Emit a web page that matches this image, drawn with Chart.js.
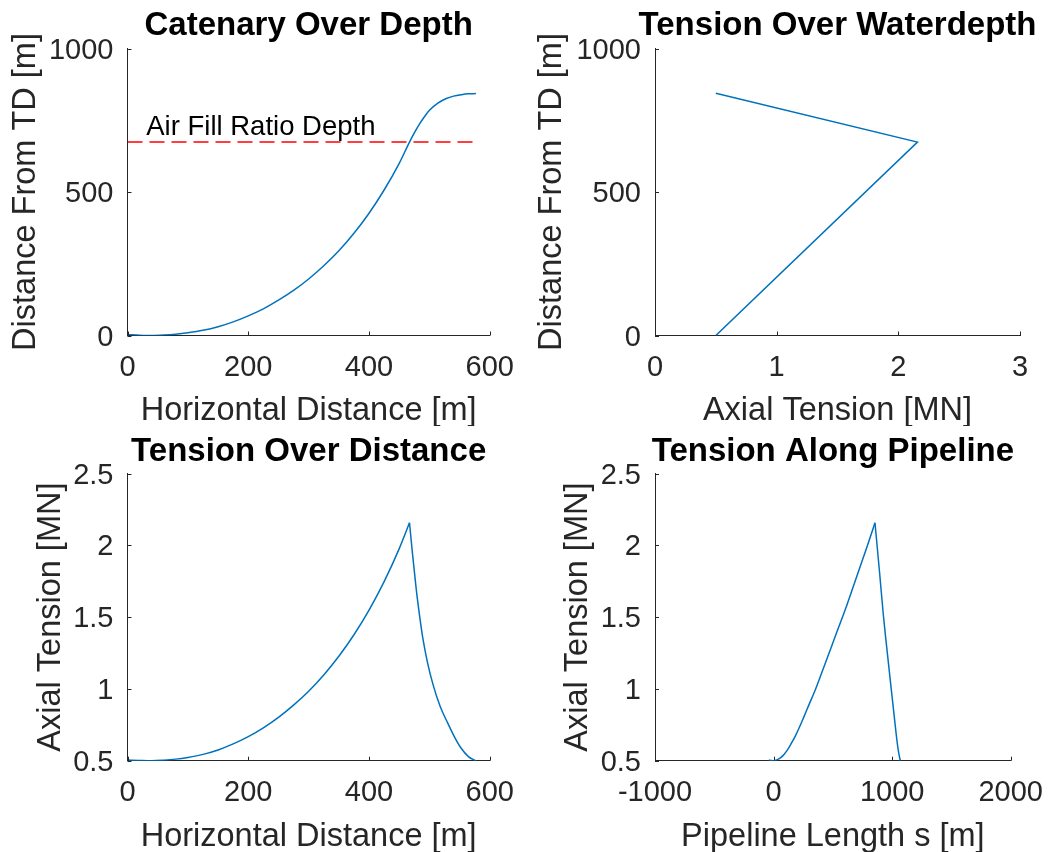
<!DOCTYPE html>
<html><head><meta charset="utf-8">
<script src="https://cdn.jsdelivr.net/npm/chart.js@4.4.1/dist/chart.umd.min.js"></script>
<style>
html,body{margin:0;padding:0;background:#fff;}
#wrap{position:relative;width:1058px;height:852px;background:#fff;overflow:hidden;}
canvas{position:absolute;}
</style></head><body>
<div id="wrap">
<canvas id="c1" width="529" height="426" style="left:0px;top:0px"></canvas>
<canvas id="c2" width="529" height="426" style="left:529px;top:0px"></canvas>
<canvas id="c3" width="529" height="426" style="left:0px;top:426px"></canvas>
<canvas id="c4" width="529" height="426" style="left:529px;top:426px"></canvas>
</div>
<script>
// ---------- data ----------
// Panel 1: catenary shape (horizontal distance [m] vs distance from TD [m])
const catX = [0, 20, 40, 60, 80, 100, 125, 150, 175, 200, 225, 250, 275, 300, 325, 350, 375, 400, 425, 450, 467, 475, 484, 492, 500, 514, 528, 540, 553, 565, 577];
const catY = [3, 1, 0, 1.5, 4.5, 9.5, 18, 30.5, 47.5, 68.5, 93, 123, 157, 197, 243, 295, 356, 426, 507, 600, 674, 706, 738, 763, 785, 810, 826, 834, 839, 842, 843];
const airFillDepth = 674;
const airFillX = [0, 577];
const airFillLabel = 'Air Fill Ratio Depth';

// Panel 2: tension over water depth
const wdTension = [0.5, 2.157, 0.5];
const wdDepth = [0, 674, 844];

// Panel 3: tension over horizontal distance (rising and falling branches)
const tdRiseX = [0, 20, 40, 60, 80, 100, 125, 150, 175, 200, 225, 250, 275, 300, 325, 350, 375, 400, 425, 450, 467];
const tdRiseT = [0.505, 0.502, 0.5, 0.504, 0.511, 0.523, 0.544, 0.575, 0.617, 0.668, 0.729, 0.802, 0.887, 0.984, 1.097, 1.227, 1.377, 1.549, 1.747, 1.977, 2.157];
const tdFallX = [467, 472, 478, 484, 489, 497, 506, 518, 530, 541, 552, 565, 577];
const tdFallT = [2.157, 1.94, 1.70, 1.50, 1.355, 1.18, 1.03, 0.875, 0.765, 0.67, 0.59, 0.527, 0.5];

// Panel 4: tension along pipeline length s
const tsRiseS = [-40, -20, 0, 21, 41, 62, 88, 117, 147, 181, 216, 254, 297, 347, 399, 458, 525, 603, 686, 783, 855];
const tsRiseT = [0.505, 0.502, 0.5, 0.504, 0.511, 0.523, 0.544, 0.575, 0.617, 0.668, 0.729, 0.802, 0.887, 0.984, 1.097, 1.227, 1.377, 1.549, 1.747, 1.977, 2.157];
const tsFallS = [855, 895, 925, 950, 975, 1000, 1020, 1036, 1050, 1062, 1070];
const tsFallT = [2.157, 1.80, 1.52, 1.32, 1.13, 0.94, 0.79, 0.67, 0.58, 0.525, 0.5];

// Tick values
const ticksHorizDist = [0, 200, 400, 600];
const ticksDepth = [0, 500, 1000];
const ticksTensionX = [0, 1, 2, 3];
const ticksTensionY = [0.5, 1, 1.5, 2, 2.5];
const ticksPipeLen = [-1000, 0, 1000, 2000];

// ---------- styling ----------
const FONT = "'Liberation Sans', Arial, Helvetica, sans-serif";
const TXT = '#262626';
const BLUE = '#0072BD';
const TICK_SIZE = 29, LABEL_SIZE = 32.5, TITLE_SIZE = 33;
const CW = 529, CH = 426;

function pts(xs, ys) { return xs.map((x, i) => ({x: x, y: ys[i]})); }

function lineDs(data, extra) {
  return Object.assign({
    data: data, showLine: true, borderColor: BLUE, borderWidth: 1.5,
    pointRadius: 0, pointHoverRadius: 0, fill: false, tension: 0
  }, extra || {});
}

const inwardTicks = {
  id: 'inwardTicks',
  afterDraw(chart) {
    const ctx = chart.ctx, a = chart.chartArea;
    const xs = chart.scales.x, ys = chart.scales.y;
    ctx.save();
    ctx.strokeStyle = TXT; ctx.lineWidth = 1;
    ctx.beginPath();
    xs.ticks.forEach(t => {
      const p = Math.round(xs.getPixelForValue(t.value)) + 0.5;
      ctx.moveTo(p, a.bottom); ctx.lineTo(p, a.bottom - 4);
    });
    ys.ticks.forEach(t => {
      const p = Math.round(ys.getPixelForValue(t.value)) + 0.5;
      ctx.moveTo(a.left, p); ctx.lineTo(a.left + 4, p);
    });
    ctx.stroke();
    ctx.restore();
  }
};

// Title centred over the plot area (MATLAB style)
const axesTitle = {
  id: 'axesTitle',
  afterDraw(chart, args, opts) {
    const ctx = chart.ctx, a = chart.chartArea;
    ctx.save();
    ctx.fillStyle = '#000';
    ctx.font = 'bold ' + TITLE_SIZE + 'px ' + FONT;
    ctx.textAlign = 'center'; ctx.textBaseline = 'middle';
    ctx.fillText(opts.text, (a.left + a.right) / 2, opts.mid);
    ctx.restore();
  }
};

function makeChart(id, o) {
  const area = o.area;
  return new Chart(document.getElementById(id), {
    type: 'scatter',
    data: { datasets: o.datasets },
    options: {
      responsive: false, animation: false, devicePixelRatio: 1,
      layout: { padding: { left: 0, top: area.top, right: CW - area.right, bottom: 0 } },
      plugins: {
        legend: { display: false },
        tooltip: { enabled: false },
        title: { display: false },
        axesTitle: { text: o.title, mid: o.titleMid }
      },
      scales: {
        x: {
          type: 'linear', position: 'bottom', min: o.xTicks[0], max: o.xTicks[o.xTicks.length - 1],
          afterBuildTicks: s => { s.ticks = o.xTicks.map(v => ({value: v})); },
          afterFit: s => { s.height = CH - area.bottom; },
          grid: { display: false, drawTicks: false },
          border: { display: true, color: TXT, width: 1 },
          ticks: { color: TXT, font: { family: FONT, size: TICK_SIZE, lineHeight: 1.2 }, padding: 15,
                   maxRotation: 0, autoSkip: false, callback: v => String(v) },
          title: { display: true, text: o.xLabel, color: TXT,
                   font: { family: FONT, size: LABEL_SIZE, lineHeight: 1 },
                   padding: { top: 0, bottom: -1 } }
        },
        y: {
          type: 'linear', position: 'left', min: o.yTicks[0], max: o.yTicks[o.yTicks.length - 1],
          afterBuildTicks: s => { s.ticks = o.yTicks.map(v => ({value: v})); },
          afterFit: s => { s.width = area.left; },
          grid: { display: false, drawTicks: false },
          border: { display: true, color: TXT, width: 1 },
          ticks: { color: TXT, font: { family: FONT, size: TICK_SIZE, lineHeight: 1.2 }, padding: 14,
                   labelOffset: 2, autoSkip: false, callback: v => String(v) },
          title: { display: true, text: o.yLabel, color: TXT,
                   font: { family: FONT, size: LABEL_SIZE, lineHeight: 1 },
                   padding: { top: o.yTitleMid - LABEL_SIZE / 2, bottom: 0 } }
        }
      }
    },
    plugins: [inwardTicks, axesTitle].concat(o.plugins || [])
  });
}

const airFillText = {
  id: 'airFillText',
  afterDatasetsDraw(chart) {
    const ctx = chart.ctx;
    const px = chart.scales.x.getPixelForValue(31);
    const py = chart.scales.y.getPixelForValue(724);
    ctx.save();
    ctx.fillStyle = '#000';
    ctx.font = '27.5px ' + FONT;
    ctx.textAlign = 'left'; ctx.textBaseline = 'middle';
    ctx.fillText(airFillLabel, px, py);
    ctx.restore();
  }
};

makeChart('c1', {
  title: 'Catenary Over Depth', xLabel: 'Horizontal Distance [m]', yLabel: 'Distance From TD [m]',
  xTicks: ticksHorizDist, yTicks: ticksDepth,
  area: { left: 127.5, right: 494.5, top: 48.5, bottom: 335.5 },
  titleMid: 25.5, yTitleMid: 26.5,
  datasets: [
    lineDs(pts(catX, catY), { cubicInterpolationMode: 'monotone' }),
    lineDs(pts(airFillX, [airFillDepth, airFillDepth]), { borderColor: '#FF0000', borderDash: [15, 7] })
  ],
  plugins: [airFillText]
});

makeChart('c2', {
  title: 'Tension Over Waterdepth', xLabel: 'Axial Tension [MN]', yLabel: 'Distance From TD [m]',
  xTicks: ticksTensionX, yTicks: ticksDepth,
  area: { left: 126, right: 491, top: 48.5, bottom: 335.5 },
  titleMid: 25.5, yTitleMid: 23,
  datasets: [ lineDs(pts(wdTension, wdDepth)) ]
});

makeChart('c3', {
  title: 'Tension Over Distance', xLabel: 'Horizontal Distance [m]', yLabel: 'Axial Tension [MN]',
  xTicks: ticksHorizDist, yTicks: ticksTensionY,
  area: { left: 127.5, right: 494.5, top: 47.5, bottom: 334.7 },
  titleMid: 25.5, yTitleMid: 51,
  datasets: [
    lineDs(pts(tdRiseX, tdRiseT), { cubicInterpolationMode: 'monotone' }),
    lineDs(pts(tdFallX, tdFallT), { cubicInterpolationMode: 'monotone' })
  ]
});

makeChart('c4', {
  title: 'Tension Along Pipeline', xLabel: 'Pipeline Length s [m]', yLabel: 'Axial Tension [MN]',
  xTicks: ticksPipeLen, yTicks: ticksTensionY,
  area: { left: 126, right: 491, top: 47.5, bottom: 334.7 },
  titleMid: 25.5, yTitleMid: 49.5,
  datasets: [
    lineDs(pts(tsRiseS, tsRiseT), { cubicInterpolationMode: 'monotone' }),
    lineDs(pts(tsFallS, tsFallT), { cubicInterpolationMode: 'monotone' })
  ]
});
</script>
</body></html>
